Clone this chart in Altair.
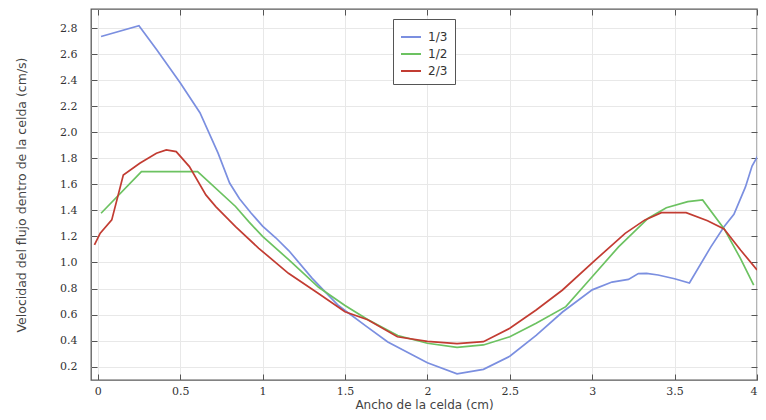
import altair as alt
import pandas as pd

series = ["1/3", "1/2", "2/3"]
colors = ["#7b8fe0", "#6cc261", "#c23c32"]

x_13 = [0.02, 0.25, 0.36, 0.50, 0.62, 0.73, 0.80, 0.86, 0.93, 1.00, 1.08, 1.16, 1.30, 1.46,
        1.63, 1.76, 2.00, 2.18, 2.34, 2.50, 2.66, 2.82, 3.00, 3.12, 3.22, 3.28, 3.33,
        3.40, 3.50, 3.59, 3.72, 3.80, 3.86, 3.93, 3.97, 4.01]
y_13 = [2.735, 2.817, 2.63, 2.38, 2.15, 1.84, 1.61, 1.49, 1.38, 1.28, 1.19, 1.09, 0.88, 0.67,
        0.51, 0.39, 0.23, 0.145, 0.18, 0.28, 0.44, 0.62, 0.79, 0.85, 0.87, 0.915, 0.917,
        0.904, 0.875, 0.843, 1.12, 1.275, 1.37, 1.58, 1.74, 1.83]

x_12 = [0.02, 0.265, 0.606, 0.836, 0.916, 1.00, 1.16, 1.34, 1.50, 1.64, 1.82, 2.00,
        2.18, 2.34, 2.50, 2.66, 2.84, 3.00, 3.16, 3.34, 3.45, 3.58, 3.67, 3.80, 3.90, 3.98]
y_12 = [1.378, 1.698, 1.698, 1.43, 1.314, 1.20, 1.02, 0.81, 0.67, 0.56, 0.44, 0.38,
        0.349, 0.367, 0.43, 0.533, 0.661, 0.891, 1.12, 1.34, 1.42, 1.467, 1.48, 1.26, 1.03, 0.827]

x_23 = [-0.02, 0.015, 0.085, 0.155, 0.255, 0.356, 0.416, 0.476, 0.556, 0.656, 0.716,
        0.836, 0.977, 1.157, 1.337, 1.50, 1.638, 1.818, 2.00, 2.18, 2.34, 2.50, 2.66,
        2.82, 3.02, 3.20, 3.32, 3.42, 3.57, 3.70, 3.80, 3.90, 4.00]
y_23 = [1.135, 1.225, 1.327, 1.672, 1.762, 1.839, 1.864, 1.851, 1.736, 1.519, 1.429,
        1.275, 1.109, 0.917, 0.764, 0.622, 0.56, 0.43, 0.395, 0.378, 0.392, 0.495, 0.635,
        0.789, 1.02, 1.224, 1.327, 1.383, 1.383, 1.32, 1.258, 1.096, 0.943]

x_ticks = [0, 0.5, 1, 1.5, 2, 2.5, 3, 3.5, 4]
y_ticks = [0.2, 0.4, 0.6, 0.8, 1.0, 1.2, 1.4, 1.6, 1.8, 2.0, 2.2, 2.4, 2.6, 2.8]

rows = []
for name, xs, ys in zip(series, [x_13, x_12, x_23], [y_13, y_12, y_23]):
    for i, (a, b) in enumerate(zip(xs, ys)):
        rows.append({"serie": name, "x": a, "y": b, "orden": i})
df = pd.DataFrame(rows)

xscale = alt.Scale(domain=[-0.041, 4.0], nice=False, zero=False)
yscale = alt.Scale(domain=[0.098, 2.946], nice=False, zero=False)

tick_font = "DejaVu Serif"
title_font = "DejaVu Sans"

lines = alt.Chart(df).mark_line(strokeWidth=1.7, clip=True).encode(
    x=alt.X("x:Q", scale=xscale,
            axis=alt.Axis(values=x_ticks, format="~g", title="Ancho de la celda (cm)",
                          grid=True, gridColor="#e8e8e8", domain=False, offset=-6,
                          tickSize=6, tickColor="#555555", labelPadding=5,
                          labelFont=tick_font, labelFontSize=11, labelColor="#333333",
                          titleFont=title_font, titleFontSize=12, titleFontWeight="normal",
                          titleColor="#444444", titlePadding=3)),
    y=alt.Y("y:Q", scale=yscale,
            axis=alt.Axis(values=y_ticks, format=".1f",
                          title="Velocidad del flujo dentro de la celda (cm/s)",
                          grid=True, gridColor="#e8e8e8", domain=False, offset=-6,
                          tickSize=6, tickColor="#555555", labelPadding=14,
                          labelFont=tick_font, labelFontSize=11, labelColor="#333333",
                          titleFont=title_font, titleFontSize=12.5, titleFontWeight="normal",
                          titleColor="#444444", titlePadding=31)),
    color=alt.Color("serie:N", scale=alt.Scale(domain=series, range=colors),
                    sort=series,
                    legend=alt.Legend(title=None, orient="none", legendX=302, legendY=10,
                                      padding=7, strokeColor="#555555", fillColor="white",
                                      symbolType="stroke", symbolSize=400,
                                      symbolStrokeWidth=2, rowPadding=0,
                                      labelFont=title_font, labelFontSize=12,
                                      labelColor="#333333", labelOffset=6)),
    order="orden:Q",
)

frame_ticks = alt.Chart(df).mark_point(opacity=0).encode(
    x=alt.X("x:Q", scale=xscale,
            axis=alt.Axis(orient="top", values=x_ticks, labels=False, title=None,
                          grid=False, domain=False, offset=-6, tickSize=6,
                          tickColor="#555555")),
    y=alt.Y("y:Q", scale=yscale,
            axis=alt.Axis(orient="right", values=y_ticks, labels=False, title=None,
                          grid=False, domain=False, offset=-6, tickSize=6,
                          tickColor="#555555")),
)

chart = alt.layer(lines, frame_ticks).resolve_axis(
    x="independent", y="independent"
).properties(
    width=666, height=371,
    autosize=alt.AutoSizeParams(type="none"),
    padding={"left": 83, "top": 1, "right": 1, "bottom": 32},
    background="white",
).configure_view(stroke="#5a5a5a", strokeWidth=1.3)

chart.save("out.html", embed_options={"renderer": "svg", "actions": False})
